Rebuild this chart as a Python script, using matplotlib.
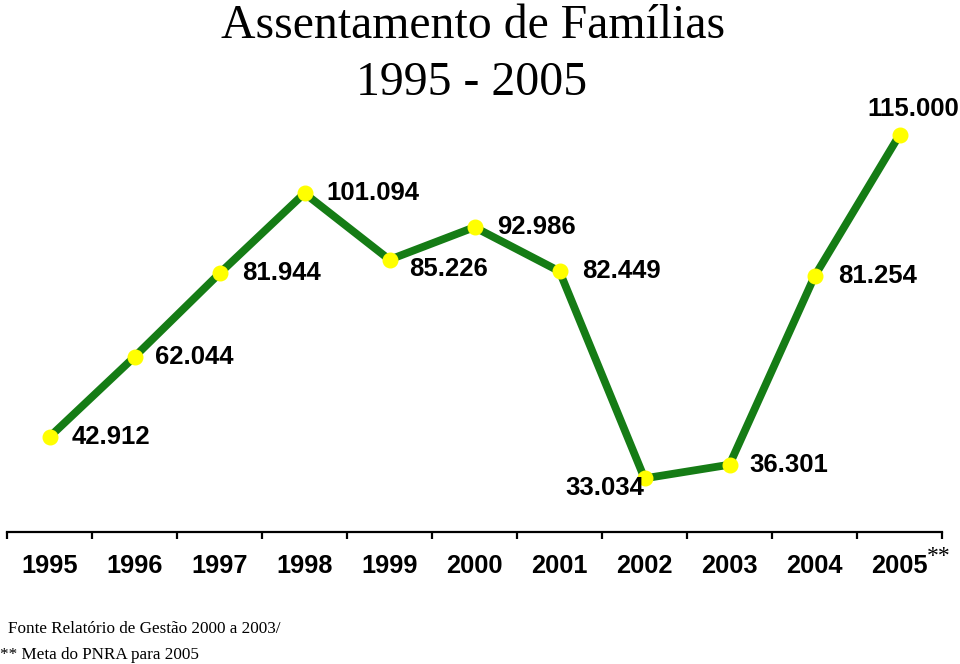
import matplotlib
matplotlib.use("Agg")
import matplotlib.pyplot as plt
import numpy as np

years = ["1995", "1996", "1997", "1998", "1999", "2000",
         "2001", "2002", "2003", "2004", "2005"]
families = [42.912, 62.044, 81.944, 101.094, 85.226, 92.986,
            82.449, 33.034, 36.301, 81.254, 115.000]
value_labels = ["42.912", "62.044", "81.944", "101.094", "85.226", "92.986",
                "82.449", "33.034", "36.301", "81.254", "115.000"]

# label offsets in points (dx, dy) and horizontal alignment
label_offsets = [(16, 0), (15, 0), (16, 0), (16, 0), (14, -7), (16, 0),
                 (16, 0), (0, -7), (14, 0), (17, 0), (10, 19)]
label_ha = ["left", "left", "left", "left", "left", "left",
            "left", "right", "left", "left", "center"]

W, H = 960, 664
fig = plt.figure(figsize=(W / 100, H / 100), dpi=100)
fig.patch.set_facecolor("white")

ax_left, ax_right = 7, 942
ax_top, ax_bottom = 114, 532
ax = fig.add_axes([ax_left / W, (H - ax_bottom) / H,
                   (ax_right - ax_left) / W, (ax_bottom - ax_top) / H])

x = np.arange(len(years))
ax.plot(x, families, color="#157c15", lw=5.6, solid_joinstyle="miter",
        marker="o", markersize=10.5, markerfacecolor="#ffff00",
        markeredgecolor="#ffff00", zorder=3)

ax.set_xlim(-0.5, len(years) - 0.5)
y0 = 42.912 - (532 - 437) / 4.19
y1 = 42.912 + (437 - 114) / 4.19
ax.set_ylim(y0, y1)

for xi, v, lab, off, ha in zip(x, families, value_labels, label_offsets, label_ha):
    ax.annotate(lab, (xi, v), xytext=off, textcoords="offset points",
                ha=ha, va="center", fontsize=18.5, fontweight="bold",
                family="Liberation Sans", color="black")

for s in ["left", "right", "top"]:
    ax.spines[s].set_visible(False)
ax.spines["bottom"].set_linewidth(1.6)
ax.set_yticks([])
ax.set_xticks(x)
ax.set_xticklabels(years, fontsize=18.3, fontweight="bold", family="Liberation Sans")
ax.set_xticks(np.arange(-0.5, len(years)), minor=True)
ax.tick_params(axis="x", which="major", length=0, pad=16)
ax.tick_params(axis="x", which="minor", length=5, width=1.6, direction="out")

# superscript after 2005
fig.text(927 / W, 1 - 557 / H, "**", fontsize=17, family="Liberation Serif",
         ha="left", va="center")

# title
fig.text(473 / W, 1 - 26 / H, "Assentamento de Famílias", fontsize=34.4,
         family="Liberation Serif", ha="center", va="center")
fig.text(472 / W, 1 - 83 / H, "1995 - 2005", fontsize=34.4,
         family="Liberation Serif", ha="center", va="center")

# footnotes
fig.text(8 / W, 1 - 629 / H, "Fonte Relatório de Gestão 2000 a 2003/", fontsize=12.3,
         family="Liberation Serif", ha="left", va="center")
fig.text(0 / W, 1 - 655 / H, "** Meta do PNRA para 2005", fontsize=12.3,
         family="Liberation Serif", ha="left", va="center")

fig.savefig("out.png", dpi=100, facecolor="white")
